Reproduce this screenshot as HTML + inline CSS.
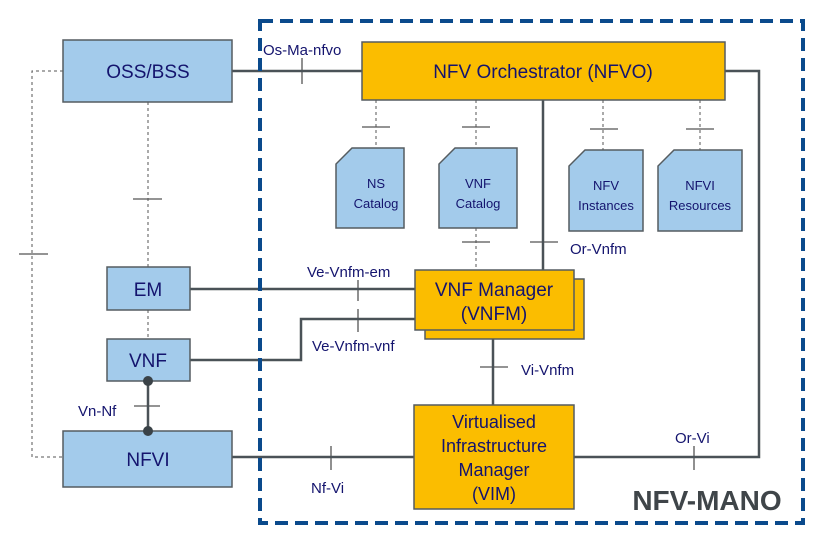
<!DOCTYPE html>
<html><head><style>html,body{margin:0;padding:0;background:#fff}svg{display:block}</style></head>
<body>
<svg width="825" height="539" viewBox="0 0 825 539" xmlns="http://www.w3.org/2000/svg" font-family="Liberation Sans, sans-serif">
<g stroke="#555" stroke-width="1" stroke-dasharray="3,3" fill="none">
<polyline points="63,71 32,71 32,457 63,457"/>
<line x1="148" y1="102" x2="148" y2="267"/>
<line x1="148" y1="310" x2="148" y2="339"/>
<line x1="376" y1="100" x2="376" y2="148"/>
<line x1="476" y1="100" x2="476" y2="148"/>
<line x1="603" y1="100" x2="603" y2="150"/>
<line x1="700" y1="100" x2="700" y2="150"/>
<line x1="476" y1="228" x2="476" y2="272"/>
</g>
<g stroke="#555" stroke-width="1.3">
<line x1="19" y1="254" x2="48" y2="254"/>
<line x1="133" y1="199" x2="162" y2="199"/>
<line x1="362" y1="127" x2="390" y2="127"/>
<line x1="462" y1="127" x2="490" y2="127"/>
<line x1="590" y1="129" x2="618" y2="129"/>
<line x1="686" y1="129" x2="714" y2="129"/>
<line x1="462" y1="242" x2="490" y2="242"/>
<line x1="530" y1="242" x2="558" y2="242"/>
<line x1="480" y1="367" x2="508" y2="367"/>
<line x1="302" y1="58" x2="302" y2="84"/>
<line x1="358" y1="280" x2="358" y2="301"/>
<line x1="358" y1="309" x2="358" y2="332"/>
<line x1="134" y1="406" x2="160" y2="406"/>
<line x1="331" y1="446" x2="331" y2="470"/>
<line x1="694" y1="446" x2="694" y2="470"/>
</g>
<g stroke="#4a5257" stroke-width="2.5" fill="none">
<line x1="232" y1="71" x2="362" y2="71"/>
<polyline points="725,71 759,71 759,457 574,457"/>
<line x1="543" y1="100" x2="543" y2="272"/>
<line x1="493" y1="330" x2="493" y2="405"/>
<line x1="190" y1="289" x2="415" y2="289"/>
<polyline points="190,360 301,360 301,319 415,319"/>
<line x1="232" y1="457" x2="414" y2="457"/>
<line x1="148" y1="381" x2="148" y2="431"/>
</g>
<rect x="260" y="21" width="543" height="502" fill="none" stroke="#0a4a8c" stroke-width="4" stroke-dasharray="13,7"/>
<g fill="#a3cbeb" stroke="#555c60" stroke-width="1.5">
<rect x="63" y="40" width="169" height="62"/>
<rect x="107" y="267" width="83" height="43"/>
<rect x="107" y="339" width="83" height="42"/>
<rect x="63" y="431" width="169" height="56"/>
<polygon points="352,148 404,148 404,228 336,228 336,164"/>
<polygon points="455,148 517,148 517,228 439,228 439,164"/>
<polygon points="585,150 643,150 643,231 569,231 569,166"/>
<polygon points="674,150 742,150 742,231 658,231 658,166"/>
</g>
<circle cx="148" cy="381" r="5" fill="#3a4247"/>
<circle cx="148" cy="431" r="5" fill="#3a4247"/>
<g fill="#fbbd00" stroke="#555c60" stroke-width="1.5">
<rect x="362" y="42" width="363" height="58"/>
<rect x="425" y="279" width="159" height="60"/>
<rect x="415" y="270" width="159" height="60"/>
<rect x="414" y="405" width="160" height="104"/>
</g>
<g fill="#14146e" text-anchor="middle">
<text x="148" y="78" font-size="19">OSS/BSS</text>
<text x="148" y="296" font-size="19">EM</text>
<text x="148" y="367" font-size="19">VNF</text>
<text x="148" y="466" font-size="19">NFVI</text>
<text x="543" y="78" font-size="19">NFV Orchestrator (NFVO)</text>
<text x="494" y="296" font-size="19">VNF Manager</text>
<text x="494" y="320" font-size="19">(VNFM)</text>
<text x="494" y="428" font-size="18">Virtualised</text>
<text x="494" y="452" font-size="18">Infrastructure</text>
<text x="494" y="476" font-size="18">Manager</text>
<text x="494" y="500" font-size="18">(VIM)</text>
<g font-size="13">
<text x="376" y="188">NS</text><text x="376" y="208">Catalog</text>
<text x="478" y="188">VNF</text><text x="478" y="208">Catalog</text>
<text x="606" y="190">NFV</text><text x="606" y="210">Instances</text>
<text x="700" y="190">NFVI</text><text x="700" y="210">Resources</text>
</g>
</g>
<g fill="#14146e" font-size="15">
<text x="263" y="55">Os-Ma-nfvo</text>
<text x="570" y="254">Or-Vnfm</text>
<text x="307" y="277">Ve-Vnfm-em</text>
<text x="312" y="351">Ve-Vnfm-vnf</text>
<text x="521" y="375">Vi-Vnfm</text>
<text x="78" y="416">Vn-Nf</text>
<text x="311" y="493">Nf-Vi</text>
<text x="675" y="443">Or-Vi</text>
</g>
<text x="707" y="510" text-anchor="middle" font-size="28" font-weight="bold" fill="#3f4549">NFV-MANO</text>
</svg>
</body></html>
